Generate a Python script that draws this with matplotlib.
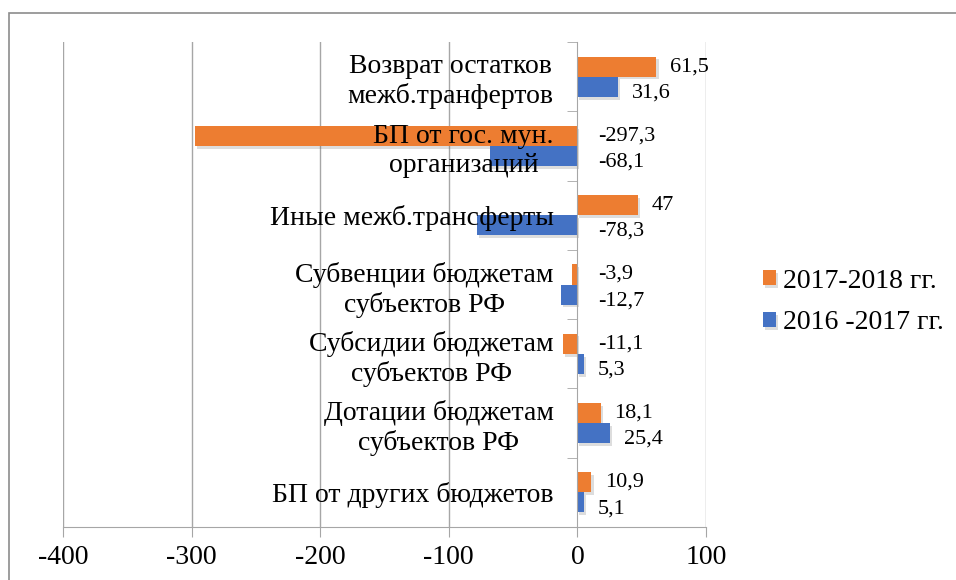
import matplotlib.pyplot as plt
import matplotlib.patheffects as pe
from matplotlib.patches import Rectangle
import numpy as np

# данные (снизу вверх, как на графике)
categories = [
    "БП от других бюджетов",
    "Дотации бюджетам\nсубъектов РФ",
    "Субсидии бюджетам\nсубъектов РФ",
    "Субвенции бюджетам\nсубъектов РФ",
    "Иные межб.трансферты",
    "БП от гос. мун.\nорганизаций",
    "Возврат остатков\nмежб.транфертов",
]
vals_2016_2017 = [5.1, 25.4, 5.3, -12.7, -78.3, -68.1, 31.6]
vals_2017_2018 = [10.9, 18.1, -11.1, -3.9, 47, -297.3, 61.5]
labels_2016_2017 = ["5,1", "25,4", "5,3", "-12,7", "-78,3", "-68,1", "31,6"]
labels_2017_2018 = ["10,9", "18,1", "-11,1", "-3,9", "47", "-297,3", "61,5"]
xticks = [-400, -300, -200, -100, 0, 100]

plt.rcParams['font.family'] = ['Liberation Serif', 'DejaVu Serif']
grid_col = '#a6a6a6'

fig = plt.figure(figsize=(9.56, 5.8), dpi=100)
ax = fig.add_axes([63 / 956, 1 - 527 / 580, 643 / 956, 485 / 580])

# рамка области диаграммы
fig.patches.append(Rectangle((9 / 956, -0.1), 1.2, 1 - 13 / 580 + 0.1,
                             transform=fig.transFigure, fill=False,
                             edgecolor='#8c8c8c', linewidth=1.2))

y = np.arange(len(categories))
h = 0.29
shadow = [pe.SimplePatchShadow(offset=(1.5, -2), shadow_rgbFace='#666666', alpha=0.22),
          pe.Normal()]

b1 = ax.barh(y + h / 2, vals_2017_2018, height=h, color='#ED7D31',
             label='2017-2018 гг.', zorder=1)
b2 = ax.barh(y - h / 2, vals_2016_2017, height=h, color='#4472C4',
             label='2016 -2017 гг.', zorder=1)
for b in list(b1) + list(b2):
    b.set_path_effects(shadow)

# подписи значений
for yy, v, t in zip(y + h / 2, vals_2017_2018, labels_2017_2018):
    ax.annotate(t, (max(v, 0), yy), xytext=(10 if v > 0 else 15, 0),
                textcoords='offset points', va='center', ha='left', fontsize=16)
for yy, v, t in zip(y - h / 2, vals_2016_2017, labels_2016_2017):
    ax.annotate(t, (max(v, 0), yy), xytext=(10 if v > 0 else 15, -4.5),
                textcoords='offset points', va='center', ha='left', fontsize=16)

# сетка
for xt in xticks:
    if xt != 0:
        ax.axvline(xt, color=grid_col, linewidth=1, zorder=0)

ax.set_xlim(-400, 100)
ax.set_ylim(-0.5, len(categories) - 0.5)
ax.set_xticks(xticks)
ax.set_xticklabels([str(x) for x in xticks], fontsize=20)
ax.tick_params(axis='x', length=7, color=grid_col, pad=6)

ax.spines['left'].set_position(('data', 0))
ax.spines['left'].set_color(grid_col)
ax.spines['bottom'].set_color(grid_col)
ax.spines['top'].set_visible(False)
ax.spines['right'].set_visible(False)

ax.set_yticks(y)
ax.set_yticklabels(categories, fontsize=20, multialignment='center')
ax.set_yticks(np.arange(len(categories) + 1) - 0.5, minor=True)
ax.tick_params(axis='y', which='major', length=0, pad=17)
ax.tick_params(axis='y', which='minor', length=7, color=grid_col)

ax.legend(handles=[b1, b2], loc='center left', bbox_to_anchor=(1.089, 0.464),
          frameon=False, fontsize=20, handlelength=0.47, handleheight=0.47,
          handletextpad=0.25, labelspacing=0.6, borderpad=0, borderaxespad=0)

plt.savefig('out.png', dpi=100)
